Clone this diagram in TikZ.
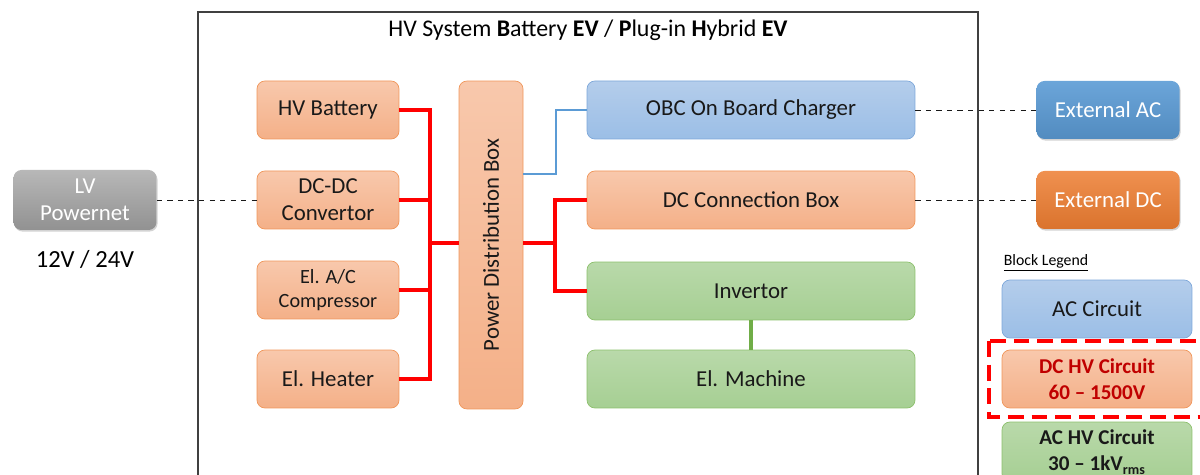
\documentclass[tikz,border=0pt]{standalone}
\usepackage{fontspec}
\setmainfont{Carlito}
\usepackage{graphicx}
\usepackage{xcolor}
\usepackage{tikz}
\usetikzlibrary{positioning,calc,shadows}

\definecolor{hvtop}{RGB}{248,200,172}
\definecolor{hvbot}{RGB}{244,176,136}
\definecolor{hvdraw}{RGB}{240,150,90}
\definecolor{actop}{RGB}{180,205,235}
\definecolor{acbot}{RGB}{155,190,230}
\definecolor{acdraw}{RGB}{125,167,217}
\definecolor{gntop}{RGB}{185,217,170}
\definecolor{gnbot}{RGB}{166,207,147}
\definecolor{gndraw}{RGB}{140,192,108}
\definecolor{gnwire}{RGB}{112,173,71}
\definecolor{extblue}{RGB}{91,155,213}
\definecolor{extorange}{RGB}{237,125,49}
\definecolor{darkred}{RGB}{192,0,0}

\begin{document}
\begin{tikzpicture}[
  x=0.02cm, y=-0.02cm,
  font=\fontsize{13}{15.5}\selectfont,
  box/.style={rounded corners=4.5pt, align=center, text=black!90,
    minimum width=2.84cm, minimum height=1.16cm, inner sep=2pt},
  hvbox/.style={box, draw=hvdraw, top color=hvtop, bottom color=hvbot},
  acbox/.style={box, draw=acdraw, top color=actop, bottom color=acbot},
  gnbox/.style={box, draw=gndraw, top color=gntop, bottom color=gnbot},
  extbox/.style={box, text=white, minimum width=2.86cm,
    drop shadow={opacity=0.35, shadow xshift=0.6pt, shadow yshift=-0.9pt}},
  hvline/.style={red, line width=2.8pt},
  acline/.style={extblue, line width=0.8pt},
  mechline/.style={gnwire, line width=2.8pt},
  extline/.style={dashed, line width=0.5pt, black!90}
]
  \useasboundingbox (0,0) rectangle (1200,475);

  % System frame
  \draw[black!75, line width=0.6pt] (198,480) -- (198,12) -- (978,12) -- (978,480);
  \node[font=\fontsize{13.6}{16}\selectfont] (title) at (588,30) {HV System \textbf{B}attery \textbf{EV} / \textbf{P}lug-in \textbf{H}ybrid \textbf{EV}};

  % Low voltage side
  \node[extbox, top color=black!28, bottom color=black!43, minimum height=1.2cm] (lvnet) at (85,200) {LV\\Powernet};
  \node[below=0.28cm of lvnet, font=\fontsize{14}{16}\selectfont] (lvvolt) {12V / 24V};

  % Left consumers
  \node[hvbox] (hvbat) at (328,110) {HV Battery};
  \node[hvbox] (dcdc) at (328,200) {DC-DC\\Convertor};
  \node[hvbox, font=\fontsize{11.5}{14}\selectfont] (accomp) at (328,290) {El. A/C\\Compressor};
  \node[hvbox] (heater) at (328,379) {El. Heater};

  % Distribution box
  \node[hvbox, minimum width=1.28cm, minimum height=6.56cm] (pdb) at (491,245) {\rotatebox{90}{Power Distribution Box}};

  % Right side
  \node[acbox, minimum width=6.56cm] (obc) at (751,110) {OBC On Board Charger};
  \node[hvbox, minimum width=6.56cm] (dcbox) at (751,200) {DC Connection Box};
  \node[gnbox, minimum width=6.56cm] (inv) at (751,291) {Invertor};
  \node[gnbox, minimum width=6.56cm] (machine) at (751,379) {El. Machine};

  % External sources
  \node[extbox, top color=extblue!90!white, bottom color=extblue!90!black] (extac) at (1108,110) {External AC};
  \node[extbox, top color=extorange!85!white, bottom color=extorange!92!black] (extdc) at (1108,200) {External DC};

  % Legend
  \node[font=\fontsize{9}{11}\selectfont] (legtitle) at (1046,263) {\underline{Block Legend}};
  \node[acbox, minimum width=3.8cm] (legac) at (1097,309) {AC Circuit};
  \node[hvbox, minimum width=3.8cm, text=darkred, font=\fontsize{12}{15}\bfseries] (legdc) at (1097,379) {DC HV Circuit\\60 -- 1500V};
  \node[gnbox, minimum width=3.8cm, minimum height=1.2cm, font=\fontsize{12}{15}\bfseries] (leghv) at (1097,452) {AC HV Circuit\\30 -- 1kV\textsubscript{rms}};
  \draw[red, line width=2pt, dash pattern=on 9pt off 4.5pt] (989,341) rectangle (1206,417);

  % HV bus
  \coordinate (busl) at (430,243);
  \coordinate (busr) at (555,243);
  \draw[hvline] (hvbat.east) -| (busl) |- (heater.east);
  \draw[hvline] (dcdc.east) -- (dcdc.east -| busl);
  \draw[hvline] (accomp.east) -- (accomp.east -| busl);
  \draw[hvline] (busl) -- (busl -| pdb.west);
  \draw[hvline] (pdb.east |- busr) -- (busr);
  \draw[hvline] (dcbox.west) -| (busr) |- (inv.west);

  % AC path
  \coordinate (acj) at (556,174);
  \draw[acline] (pdb.east |- acj) -- (acj) |- (obc.west);
  \draw[mechline] (inv.south) -- (machine.north);

  % External links
  \draw[extline] (lvnet.east) -- (dcdc.west);
  \draw[extline] (obc.east) -- (extac.west);
  \draw[extline] (dcbox.east) -- (extdc.west);
\end{tikzpicture}
\end{document}
